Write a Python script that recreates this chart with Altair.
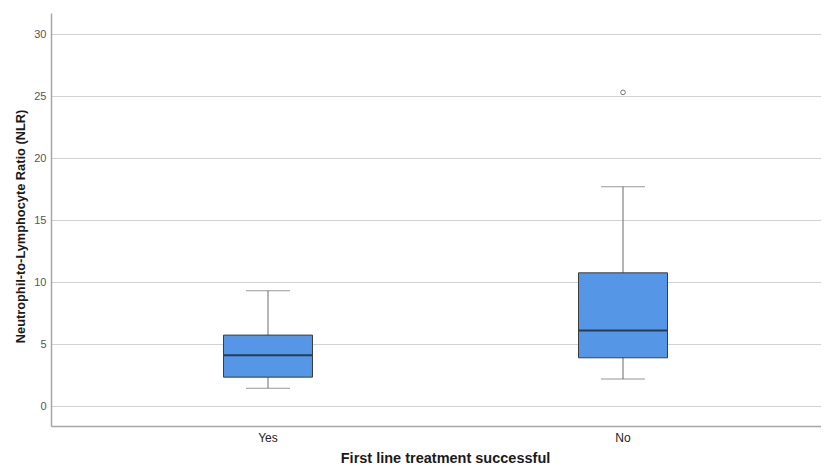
import altair as alt
import pandas as pd

categories = ["Yes", "No"]
whisker_low = [1.45, 2.18]
q1 = [2.34, 3.9]
median = [4.1, 6.1]
q3 = [5.73, 10.75]
whisker_high = [9.3, 17.7]
outlier_group = ["No"]
outlier_value = [25.3]
y_ticks = [0, 5, 10, 15, 20, 25, 30]

df = pd.DataFrame(dict(group=categories, lo=whisker_low, q1=q1, med=median, q3=q3, hi=whisker_high))
out = pd.DataFrame(dict(group=outlier_group, value=outlier_value))

FONT = "Liberation Sans"

x_scale = alt.Scale(domain=categories, paddingInner=0.5, paddingOuter=0.3345, align=0.54)
y_scale = alt.Scale(domain=[-1.6, 31.7], nice=False, zero=False)

x_axis = alt.Axis(
    title="First line treatment successful", labelAngle=0, ticks=False, tickSize=0,
    grid=False, domainColor="#a6a6a6", domainWidth=1.5,
    labelFont=FONT, labelFontSize=12, labelColor="#222222", labelPadding=6,
    titleFont=FONT, titleFontSize=14.5, titleFontWeight="bold", titleColor="#1a1a1a",
    titlePadding=8, titleX=394,
)
y_axis = alt.Axis(
    title="Neutrophil-to-Lymphocyte Ratio (NLR)", values=y_ticks, ticks=False, tickSize=0,
    grid=True, gridColor="#d2d2d2", gridWidth=1, domainColor="#a6a6a6", domainWidth=1.5,
    labelFont=FONT, labelFontSize=11, labelColor="#555555", labelPadding=5,
    titleFont=FONT, titleFontSize=12.8, titleFontWeight="bold", titleColor="#1a1a1a",
    titlePadding=6, titleY=213,
)

X = alt.X("group:N", scale=x_scale, sort=categories, axis=x_axis)

base = alt.Chart(df)

whisk = base.mark_rule(color="#6b6b6b", strokeWidth=1).encode(
    x=X, y=alt.Y("lo:Q", scale=y_scale, axis=y_axis), y2="hi:Q")
caps_lo = base.mark_tick(size=44, thickness=1, color="#6b6b6b").encode(
    x=X, y=alt.Y("lo:Q", scale=y_scale, axis=y_axis))
caps_hi = base.mark_tick(size=44, thickness=1, color="#6b6b6b").encode(
    x=X, y=alt.Y("hi:Q", scale=y_scale, axis=y_axis))
box = base.mark_bar(size=89, fill="#5596e6", stroke="#3c3c3c", strokeWidth=1).encode(
    x=X, y=alt.Y("q1:Q", scale=y_scale, axis=y_axis), y2="q3:Q")
med = base.mark_tick(size=88, thickness=2, color="#151515").encode(
    x=X, y=alt.Y("med:Q", scale=y_scale, axis=y_axis))
pts = alt.Chart(out).mark_point(shape="circle", size=22, filled=False, stroke="#3c3c3c", strokeWidth=1).encode(
    x=X, y=alt.Y("value:Q", scale=y_scale, axis=y_axis))

chart = alt.layer(whisk, caps_lo, caps_hi, box, med, pts).properties(
    width=770, height=413,
    autosize=alt.AutoSizeParams(type="none"),
    padding={"left": 43, "top": 5, "right": 0, "bottom": 39},
    background="white",
).configure_view(stroke=None)

chart.save("out.html", embed_options={"renderer": "svg", "actions": False})
